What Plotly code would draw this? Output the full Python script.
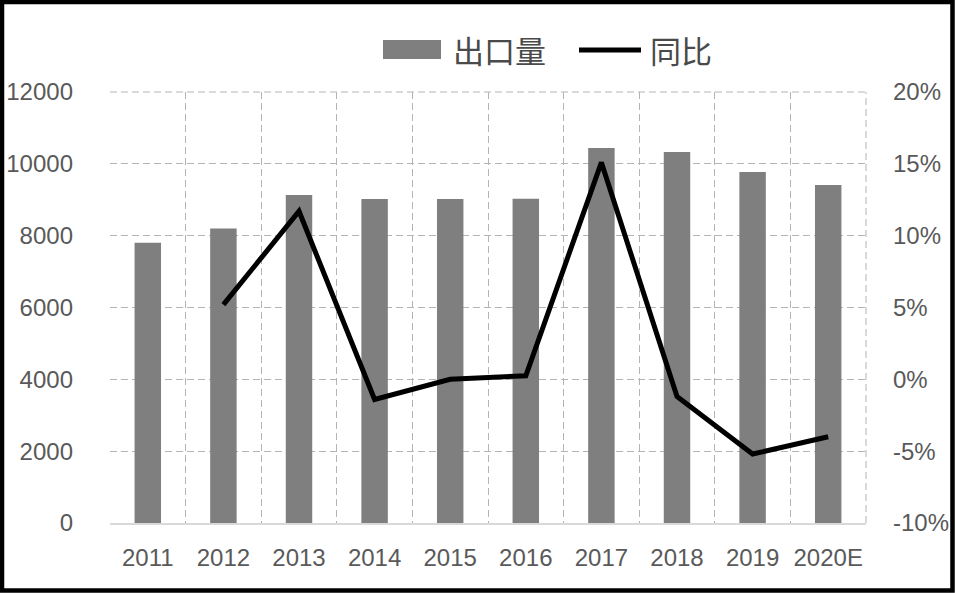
import plotly.graph_objects as go

# ---- data ----
years = ["2011", "2012", "2013", "2014", "2015", "2016", "2017", "2018", "2019", "2020E"]
export_volume = [7800, 8200, 9130, 9020, 9020, 9030, 10440, 10330, 9770, 9410]
yoy = [None, 0.052, 0.117, -0.014, 0.0, 0.0025, 0.151, -0.012, -0.052, -0.040]
left_ticks = [0, 2000, 4000, 6000, 8000, 10000, 12000]
right_ticks = [-0.10, -0.05, 0.0, 0.05, 0.10, 0.15, 0.20]
right_tick_labels = ["-10%", "-5%", "0%", "5%", "10%", "15%", "20%"]
bar_name = "出口量"
line_name = "同比"

# ---- layout constants (pixels) ----
W, H = 955, 593
ML, MR, MT, MB = 110, 89, 92, 70
PW, PH = W - ML - MR, H - MT - MB

def px_x(px):
    return (px - ML) / PW

def px_y(py):
    return (H - MB - py) / PH

TICK_FONT = dict(family="Liberation Sans, Arial, sans-serif", size=24, color="#595959")
GRID = "#b4b4b4"

fig = go.Figure()
fig.add_trace(go.Bar(x=years, y=export_volume, name=bar_name, marker_color="#7f7f7f",
                     marker_line_width=0, width=0.35, showlegend=False))
fig.add_trace(go.Scatter(x=years, y=yoy, name=line_name, mode="lines", yaxis="y2",
                         line=dict(color="#000000", width=5), connectgaps=False, showlegend=False))

fig.update_layout(
    width=W, height=H,
    margin=dict(l=ML, r=MR, t=MT, b=MB, autoexpand=False),
    paper_bgcolor="white", plot_bgcolor="white",
    xaxis=dict(type="category", tickson="boundaries", showgrid=True, gridcolor=GRID,
               griddash="7px,4px", gridwidth=1, ticks="", tickfont=TICK_FONT, tickangle=0,
               showline=True, linecolor="#d9d9d9", linewidth=2, automargin=False,
               ticklabelstandoff=12, range=[-0.5, 9.5]),
    yaxis=dict(range=[0, 12000], tickvals=left_ticks, showgrid=True, gridcolor=GRID,
               griddash="7px,4px", gridwidth=1, zeroline=False, tickfont=TICK_FONT,
               ticklabelstandoff=36, tickformat="d", automargin=False),
    yaxis2=dict(range=[-0.10, 0.20], tickvals=right_ticks, ticktext=right_tick_labels,
                overlaying="y", side="right", showgrid=False, zeroline=False,
                tickfont=TICK_FONT, ticklabelstandoff=26, automargin=False),
)

# right border dashed line of plot area and top dashed line
fig.add_shape(type="line", xref="paper", yref="paper", x0=1, x1=1, y0=0, y1=1,
              line=dict(color=GRID, width=1, dash="7px,4px"))
fig.add_shape(type="line", xref="paper", yref="paper", x0=0, x1=1, y0=1, y1=1,
              line=dict(color=GRID, width=1, dash="7px,4px"))

# manual legend
LEG_FONT = dict(family="Noto Sans CJK SC, sans-serif", size=31, color="#4a4a4a")
fig.add_shape(type="rect", xref="paper", yref="paper",
              x0=px_x(383), x1=px_x(441), y0=px_y(59), y1=px_y(40),
              fillcolor="#7f7f7f", line=dict(width=0))
fig.add_annotation(xref="paper", yref="paper", x=px_x(451), y=px_y(50), text=bar_name,
                   showarrow=False, xanchor="left", yanchor="middle", font=LEG_FONT)
fig.add_shape(type="line", xref="paper", yref="paper",
              x0=px_x(579), x1=px_x(641), y0=px_y(50), y1=px_y(50),
              line=dict(color="black", width=5))
fig.add_annotation(xref="paper", yref="paper", x=px_x(648), y=px_y(50), text=line_name,
                   showarrow=False, xanchor="left", yanchor="middle", font=LEG_FONT)

# outer black frame
fig.add_shape(type="rect", xref="paper", yref="paper",
              x0=px_x(2), x1=px_x(W - 2.5), y0=px_y(H - 2.5), y1=px_y(2),
              line=dict(color="black", width=4.5), fillcolor="rgba(0,0,0,0)")

fig.write_html(
    "out.html",
    config={"displayModeBar": False},
    post_script="document.body.style.margin='0';document.body.style.overflow='hidden';",
)
